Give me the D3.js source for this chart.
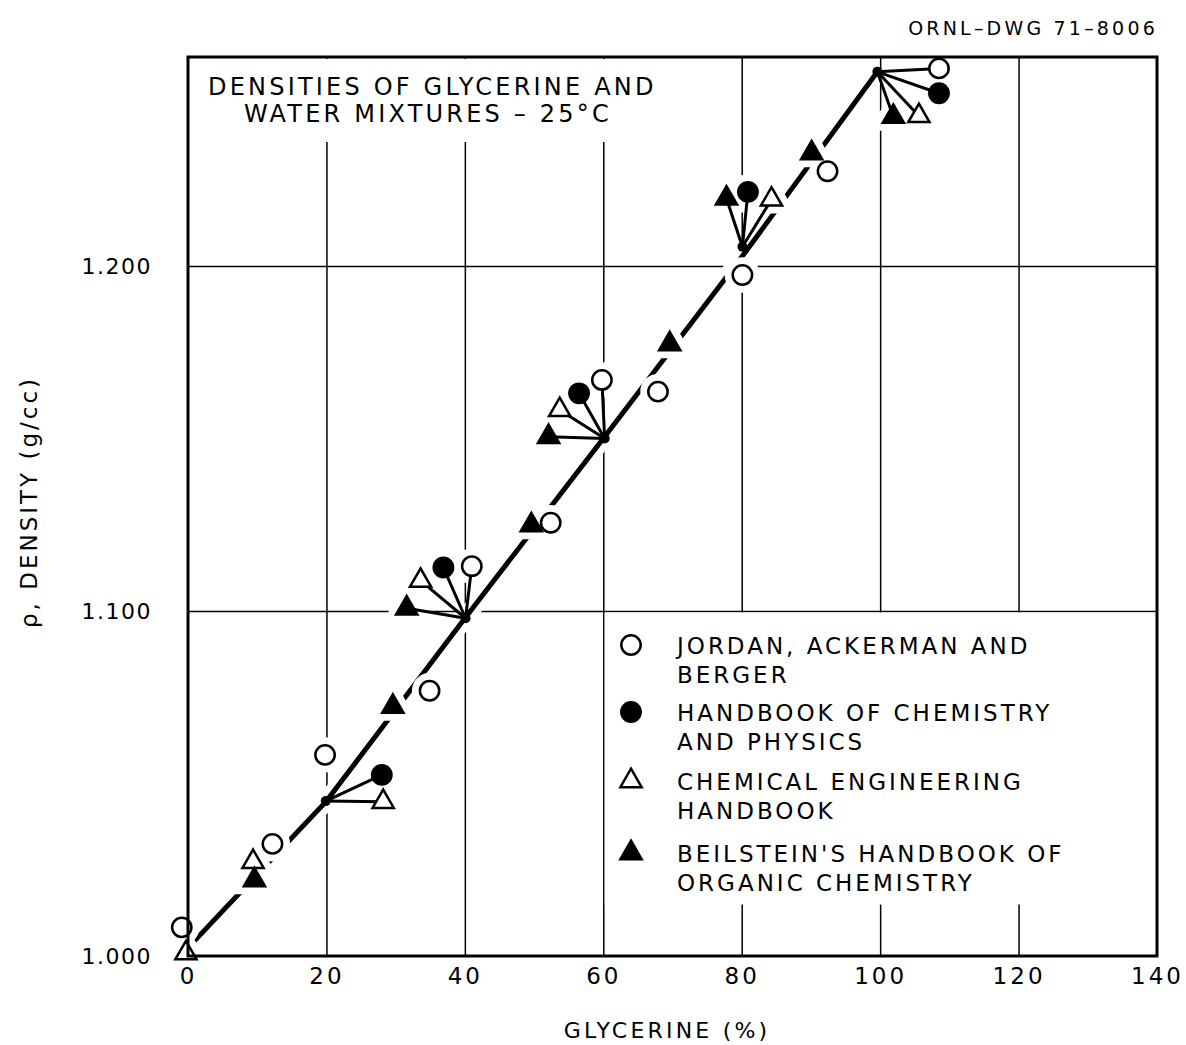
<!DOCTYPE html>
<html lang="en">
<head>
<meta charset="UTF-8">
<title>Densities of glycerine and water mixtures</title>
<script src="https://d3js.org/d3.v7.min.js"></script>
<style>
    body {margin: 0; background: #fff;}
    text {font-family: "DejaVu Sans", sans-serif; fill: #000;}
    .grid line {stroke: #000; stroke-width: 1.5px;}
</style>
</head>
<body>
<script>
    const width  = 1186;
    const height = 1045;

    // fitted density curve (drawn through the junction points)
    const curveGlycerine = [0.8, 20, 40, 60, 80, 99.6];
    const curveDensity   = [1.0041, 1.0449, 1.0979, 1.1500, 1.2026, 1.2563];

    // points where the leader lines meet
    const junctionGlycerine = [19.9, 40.1, 60.2, 80.1, 99.6];
    const junctionDensity   = [1.0449, 1.0979, 1.1500, 1.2056, 1.2563];

    // marker positions as drawn, and which junction (-1 = none) each is tied to
    const jordanX      = [-0.9, 12.2, 19.8, 34.9, 41.0, 52.4, 59.8, 67.9, 80.1, 92.4, 108.5];
    const jordanY      = [1.0083, 1.0325, 1.0583, 1.0769, 1.1130, 1.1256, 1.1670, 1.1636, 1.1974, 1.2275, 1.2573];
    const jordanLeader = [-1, -1, -1, -1, 1, -1, 2, -1, -1, -1, 4];

    const handbookX      = [28.0, 36.9, 56.5, 80.9, 108.5];
    const handbookY      = [1.0525, 1.1126, 1.1631, 1.2215, 1.2501];
    const handbookLeader = [0, 1, 2, 3, 4];

    const chemEngX      = [-0.3, 9.4, 28.2, 33.6, 53.7, 84.3, 105.6];
    const chemEngY      = [1.0008, 1.0273, 1.0447, 1.1088, 1.1583, 1.2193, 1.2435];
    const chemEngLeader = [-1, -1, 0, 1, 2, 3, 4];

    const beilsteinX      = [9.6, 29.6, 31.6, 49.6, 52.1, 69.6, 77.8, 90.1, 101.9];
    const beilsteinY      = [1.0220, 1.0723, 1.1008, 1.1249, 1.1505, 1.1774, 1.2196, 1.2327, 1.2433];
    const beilsteinLeader = [-1, -1, 1, -1, 2, -1, 3, -1, 4];

    const xTicks = [0, 20, 40, 60, 80, 100, 120, 140];
    const yTicks = [1.0, 1.1, 1.2];

    const sources = [
        {name: ["JORDAN, ACKERMAN AND", "BERGER"], shape: "circle", filled: false, xs: jordanX, ys: jordanY, lead: jordanLeader},
        {name: ["HANDBOOK OF CHEMISTRY", "AND PHYSICS"], shape: "circle", filled: true, xs: handbookX, ys: handbookY, lead: handbookLeader},
        {name: ["CHEMICAL ENGINEERING", "HANDBOOK"], shape: "triangle", filled: false, xs: chemEngX, ys: chemEngY, lead: chemEngLeader},
        {name: ["BEILSTEIN'S HANDBOOK OF", "ORGANIC CHEMISTRY"], shape: "triangle", filled: true, xs: beilsteinX, ys: beilsteinY, lead: beilsteinLeader}
    ];

    const x = d3.scaleLinear().domain([0, 140]).range([188, 1157]);
    const y = d3.scaleLinear().domain([1.0, 1.2606]).range([956, 57]);

    const svg = d3.select("body").append("svg").attr("width", width).attr("height", height);

    // grid
    svg.append("g").attr("class", "grid")
        .attr("transform", "translate(0," + y(1.0) + ")")
        .call(d3.axisBottom(x).tickValues([20, 40, 60, 80, 100, 120]).tickSize(-(y(1.0) - y.range()[1])).tickFormat(""))
        .call(g => g.select(".domain").remove());
    svg.append("g").attr("class", "grid")
        .attr("transform", "translate(" + x(0) + ",0)")
        .call(d3.axisLeft(y).tickValues([1.1, 1.2]).tickSize(-(x(140) - x(0))).tickFormat(""))
        .call(g => g.select(".domain").remove());

    // blank areas behind title and legend
    svg.append("rect").attr("x", x(0) + 2).attr("y", y.range()[1] + 2)
        .attr("width", x(75) - x(0)).attr("height", 83).attr("fill", "#fff");
    svg.append("rect").attr("x", x(60) + 1.5).attr("y", y(1.1) + 1.5)
        .attr("width", x(140) - x(60) - 3).attr("height", 292).attr("fill", "#fff");

    // curve with white halo
    const curvePts = curveGlycerine.map((g, i) => [x(g), y(curveDensity[i])]);
    const line = d3.line();
    svg.append("path").attr("d", line(curvePts))
        .attr("fill", "none").attr("stroke", "#fff").attr("stroke-width", 18);
    svg.append("path").attr("d", line(curvePts))
        .attr("fill", "none").attr("stroke", "#000").attr("stroke-width", 5);

    const symbolPath = s => d3.symbol()
        .type(s === "circle" ? d3.symbolCircle : d3.symbolTriangle)
        .size(s === "circle" ? 295 : 195)();

    // marker halos
    sources.forEach(src => {
        svg.append("g").selectAll("path").data(src.xs).join("path")
            .attr("d", symbolPath(src.shape))
            .attr("transform", (d, i) => "translate(" + x(d) + "," + y(src.ys[i]) + ")")
            .attr("fill", "#fff").attr("stroke", "#fff").attr("stroke-width", 16);
    });

    // leader lines
    sources.forEach(src => {
        src.xs.forEach((d, i) => {
            const j = src.lead[i];
            if (j < 0) return;
            svg.append("line")
                .attr("x1", x(junctionGlycerine[j])).attr("y1", y(junctionDensity[j]))
                .attr("x2", x(d)).attr("y2", y(src.ys[i]))
                .attr("stroke", "#000").attr("stroke-width", 3);
        });
    });
    svg.append("g").selectAll("circle").data(junctionGlycerine).join("circle")
        .attr("cx", d => x(d)).attr("cy", (d, i) => y(junctionDensity[i]))
        .attr("r", 5).attr("fill", "#000");

    // markers
    sources.forEach(src => {
        svg.append("g").selectAll("path").data(src.xs).join("path")
            .attr("d", symbolPath(src.shape))
            .attr("transform", (d, i) => "translate(" + x(d) + "," + y(src.ys[i]) + ")")
            .attr("fill", src.filled ? "#000" : "#fff")
            .attr("stroke", "#000").attr("stroke-width", 2.5);
    });

    // frame
    svg.append("rect").attr("x", x(0)).attr("y", y.range()[1])
        .attr("width", x(140) - x(0)).attr("height", y(1.0) - y.range()[1])
        .attr("fill", "none").attr("stroke", "#000").attr("stroke-width", 3);

    // axes labels
    const xAxis = svg.append("g").attr("transform", "translate(0," + y(1.0) + ")")
        .call(d3.axisBottom(x).tickValues(xTicks).tickSize(0).tickPadding(12));
    xAxis.select(".domain").remove();
    xAxis.selectAll("text").style("font-size", "23px").style("letter-spacing", "3px")
        .style("font-family", "\"DejaVu Sans\", sans-serif");

    const yAxis = svg.append("g").attr("transform", "translate(" + x(0) + ",0)")
        .call(d3.axisLeft(y).tickValues(yTicks).tickSize(0).tickPadding(36).tickFormat(d3.format(".3f")));
    yAxis.select(".domain").remove();
    yAxis.selectAll("text").style("font-size", "22px").style("letter-spacing", "1.5px")
        .style("font-family", "\"DejaVu Sans\", sans-serif");

    svg.append("text").attr("x", 667).attr("y", 1038).attr("text-anchor", "middle")
        .style("font-size", "22px").style("letter-spacing", "3.2px").text("GLYCERINE (%)");

    svg.append("text").attr("transform", "translate(37,502) rotate(-90)").attr("text-anchor", "middle")
        .style("font-size", "23px").style("letter-spacing", "3px").text("ρ, DENSITY (g/cc)");

    // drawing number
    svg.append("text").attr("x", 1158).attr("y", 35).attr("text-anchor", "end")
        .style("font-size", "19px").style("letter-spacing", "3.2px").text("ORNL–DWG 71–8006");

    // title
    svg.append("text").attr("x", 208).attr("y", 95)
        .style("font-size", "24px").style("letter-spacing", "3.2px").text("DENSITIES OF GLYCERINE AND");
    svg.append("text").attr("x", 244).attr("y", 122)
        .style("font-size", "24px").style("letter-spacing", "3.2px").text("WATER MIXTURES – 25°C");

    // legend
    const legendRowY = [645, 712, 781, 853];
    sources.forEach((src, k) => {
        svg.append("path").attr("d", symbolPath(src.shape))
            .attr("transform", "translate(631," + legendRowY[k] + ")")
            .attr("fill", src.filled ? "#000" : "#fff")
            .attr("stroke", "#000").attr("stroke-width", 2.5);
        src.name.forEach((t, l) => {
            svg.append("text").attr("x", 677).attr("y", legendRowY[k] + 9 + l * 29)
                .style("font-size", "23px").style("letter-spacing", "3px").text(t);
        });
    });
</script>
</body>
</html>
